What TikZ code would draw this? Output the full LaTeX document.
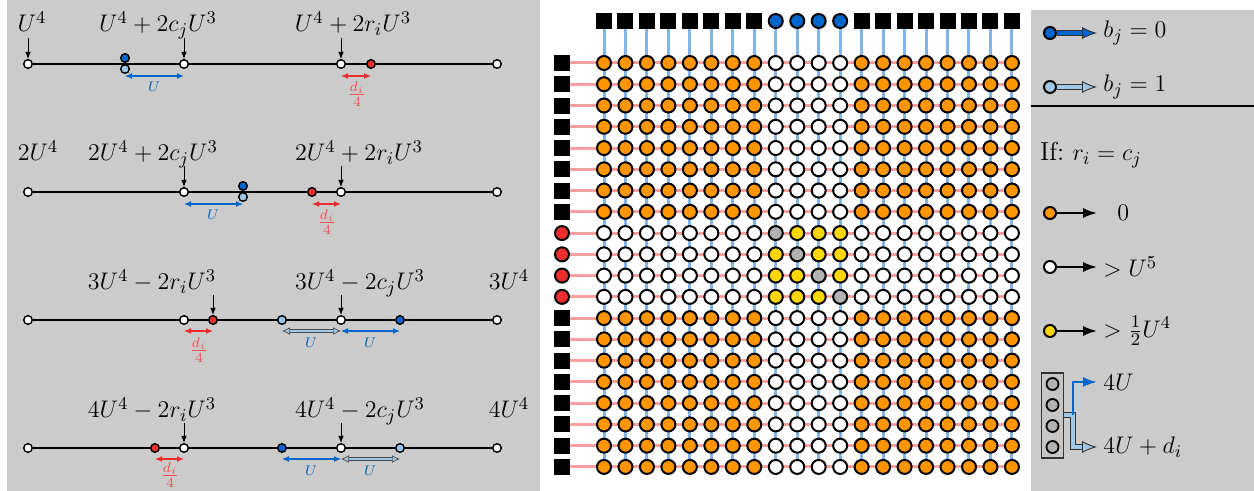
\documentclass[tikz,border=0pt]{standalone}
\usetikzlibrary{arrows.meta,backgrounds}

\definecolor{panel}{RGB}{203,203,203}
\definecolor{dblue}{RGB}{0,102,204}
\definecolor{lblue}{RGB}{160,200,230}
\definecolor{dred}{RGB}{235,45,45}
\definecolor{lred}{RGB}{240,80,80}
\definecolor{orng}{RGB}{255,150,0}
\definecolor{yel}{RGB}{255,215,0}
\definecolor{gry}{RGB}{178,178,178}
\definecolor{rline}{RGB}{250,160,160}
\definecolor{bline}{RGB}{130,180,230}

\begin{document}
\begin{tikzpicture}[x=0.5pt,y=-0.5pt,
  lab/.style={font=\fontsize{13}{15}\selectfont},
  ulab/.style={font=\fontsize{7.5}{8.5}\selectfont},
  flab/.style={font=\fontsize{10}{11}\selectfont,text=lred,inner sep=0pt},
  pt/.style={circle,draw,line width=0.7pt,fill=white,inner sep=0pt,minimum size=4.3pt},
  gn/.style={circle,draw,line width=1pt,inner sep=0pt,minimum size=7pt},
  sq/.style={fill=black,inner sep=0pt,minimum size=8pt},
  dn/.style={-{Latex[length=3.5pt,width=2.8pt]},line width=0.5pt},
  uarr/.style={{Latex[length=3.5pt,width=3pt]}-{Latex[length=3.5pt,width=3pt]},dblue,line width=0.6pt},
  rarr/.style={{Latex[length=3.5pt,width=3pt]}-{Latex[length=3.5pt,width=3pt]},dred,line width=0.6pt},
  lbarr/.style={{Latex[length=4pt,width=3.8pt,fill=lblue]}-{Latex[length=4pt,width=3.8pt,fill=lblue]},draw=black!70,double=lblue,double distance=1.2pt,line width=0.35pt},
  karr/.style={-{Latex[length=7pt,width=5pt]},line width=1pt},
  kdbl/.style={-{Latex[length=7.5pt,width=6pt,fill=#1]},draw=black!80,double=#1,double distance=2pt,line width=0.45pt},
  ktxt/.style={lab,anchor=west,inner sep=3pt}
]
\useasboundingbox (0,0) rectangle (1254,491);

% Panels
\fill[panel] (7,0) rectangle (540,491);
\fill[panel] (1031,10) rectangle (1254,491);

% First line
\node[pt] (p1s) at (28,64) {};
\node[pt] (p1e) at (497,64) {};
\draw[line width=0.6pt] (p1s) -- (p1e);
\node[pt] (p1c) at (184,64) {};
\node[pt] (p1r) at (341,64) {};
\node[pt,fill=dblue] (p1b) at (125,58) {};
\node[pt,fill=lblue] (p1l) at (125,69) {};
\node[pt,fill=dred] (p1d) at (371,64) {};
\node[lab,anchor=base] (t1s) at (32,32) {$U^4$};
\node[lab,anchor=base] (t1c) at (158,32) {$U^4+2c_jU^3$};
\node[lab,anchor=base] (t1r) at (353,32) {$U^4+2r_iU^3$};
\draw[dn] (p1s |- 0,38) -- (p1s);
\draw[dn] (p1c |- 0,38) -- (p1c);
\draw[dn] (p1r |- 0,38) -- (p1r);
\draw[uarr] (p1l |- 0,76) -- (p1c |- 0,76);
\node[ulab,text=dblue] (u1) at (154,87) {$U$};
\draw[rarr] (p1r |- 0,76) -- (p1d |- 0,76);
\node[flab] (f1) at (357,94) {$\frac{d_i}{4}$};

% Second line
\node[pt] (p2s) at (28,192) {};
\node[pt] (p2e) at (497,192) {};
\draw[line width=0.6pt] (p2s) -- (p2e);
\node[pt] (p2c) at (184,192) {};
\node[pt] (p2r) at (341,192) {};
\node[pt,fill=dblue] (p2b) at (243,186) {};
\node[pt,fill=lblue] (p2l) at (243,197) {};
\node[pt,fill=dred] (p2d) at (312,192) {};
\node[lab,anchor=base] (t2s) at (38,161) {$2U^4$};
\node[lab,anchor=base] (t2c) at (153,161) {$2U^4+2c_jU^3$};
\node[lab,anchor=base] (t2r) at (359,161) {$2U^4+2r_iU^3$};
\draw[dn] (p2c |- 0,166) -- (p2c);
\draw[dn] (p2r |- 0,166) -- (p2r);
\draw[uarr] (p2c |- 0,204) -- (p2l |- 0,204);
\node[ulab,text=dblue] (u2) at (213,215) {$U$};
\draw[rarr] (p2d |- 0,204) -- (p2r |- 0,204);
\node[flab] (f2) at (327,222) {$\frac{d_i}{4}$};

% Third line
\node[pt] (p3s) at (28,320) {};
\node[pt] (p3e) at (497,320) {};
\draw[line width=0.6pt] (p3s) -- (p3e);
\node[pt] (p3c) at (184,320) {};
\node[pt,fill=dred] (p3d) at (213,320) {};
\node[pt,fill=lblue] (p3l) at (282,320) {};
\node[pt] (p3r) at (341,320) {};
\node[pt,fill=dblue] (p3b) at (400,320) {};
\node[lab,anchor=base] (t3r) at (152,290) {$3U^4-2r_iU^3$};
\node[lab,anchor=base] (t3c) at (360,290) {$3U^4-2c_jU^3$};
\node[lab,anchor=base] (t3e) at (509,290) {$3U^4$};
\draw[dn] (p3d |- 0,295) -- (p3d);
\draw[dn] (p3r |- 0,295) -- (p3r);
\draw[rarr] (p3c |- 0,331) -- (p3d |- 0,331);
\node[flab] (f3) at (199,350) {$\frac{d_i}{4}$};
\draw[lbarr] (p3l |- 0,331) -- (p3r |- 0,331);
\node[ulab,text=dblue] (u3a) at (311,343) {$U$};
\draw[uarr] (p3r |- 0,331) -- (p3b |- 0,331);
\node[ulab,text=dblue] (u3b) at (370,343) {$U$};

% Fourth line
\node[pt] (p4s) at (28,448) {};
\node[pt] (p4e) at (497,448) {};
\draw[line width=0.6pt] (p4s) -- (p4e);
\node[pt,fill=dred] (p4d) at (155,448) {};
\node[pt] (p4c) at (184,448) {};
\node[pt,fill=dblue] (p4b) at (282,448) {};
\node[pt] (p4r) at (341,448) {};
\node[pt,fill=lblue] (p4l) at (400,448) {};
\node[lab,anchor=base] (t4r) at (152,418) {$4U^4-2r_iU^3$};
\node[lab,anchor=base] (t4c) at (360,418) {$4U^4-2c_jU^3$};
\node[lab,anchor=base] (t4e) at (509,418) {$4U^4$};
\draw[dn] (p4c |- 0,423) -- (p4c);
\draw[dn] (p4r |- 0,423) -- (p4r);
\draw[rarr] (p4d |- 0,459) -- (p4c |- 0,459);
\node[flab] (f4) at (170,475) {$\frac{d_i}{4}$};
\draw[uarr] (p4b |- 0,459) -- (p4r |- 0,459);
\node[ulab,text=dblue] (u4a) at (311,471) {$U$};
\draw[lbarr] (p4r |- 0,459) -- (p4l |- 0,459);
\node[ulab,text=dblue] (u4b) at (370,471) {$U$};

% Grid: top and left inputs
\foreach \col in {1,...,20}{
  \pgfmathtruncatemacro{\ci}{and(\col>8,\col<13)}
  \ifnum\ci=1
    \node[gn,fill=dblue] (t\col) at ({604+21.47*(\col-1)},21) {};
  \else
    \node[sq] (t\col) at ({604+21.47*(\col-1)},21) {};
  \fi
}
\foreach \row in {1,...,20}{
  \pgfmathtruncatemacro{\ri}{and(\row>8,\row<13)}
  \ifnum\ri=1
    \node[gn,fill=dred] (l\row) at (562,{63+21.26*(\row-1)}) {};
  \else
    \node[sq] (l\row) at (562,{63+21.26*(\row-1)}) {};
  \fi
}

% Grid cells
\foreach \row in {1,...,20}{
  \foreach \col in {1,...,20}{
    \pgfmathtruncatemacro{\ri}{and(\row>8,\row<13)}
    \pgfmathtruncatemacro{\ci}{and(\col>8,\col<13)}
    \pgfmathtruncatemacro{\kind}{\ri+\ci+and(\ri+\ci==2,\row==\col)}
    \ifcase\kind \def\fc{orng}\or\def\fc{white}\or\def\fc{yel}\else\def\fc{gry}\fi
    \node[gn,fill=\fc] (g-\row-\col) at ({604+21.47*(\col-1)},{63+21.26*(\row-1)}) {};
  }
}

% Wires
\begin{pgfonlayer}{background}
\foreach \col in {1,...,20}
  \draw[bline,line width=1.5pt] (t\col) -- (g-20-\col);
\foreach \row in {1,...,20}
  \draw[rline,line width=1.5pt] (l\row) -- (g-\row-20);
\end{pgfonlayer}

% Legend
\node[gn,fill=dblue,minimum size=6pt] (k1) at (1050,33) {};
\node[ktxt] (k1t) at (1097,33) {$b_j=0$};
\draw[kdbl=dblue] (k1) -- (k1t);
\node[gn,fill=lblue,minimum size=6pt] (k2) at (1050,87) {};
\node[ktxt] (k2t) at (1097,87) {$b_j=1$};
\draw[kdbl=lblue] (k2) -- (k2t);
\draw[line width=1pt] (1031,106) -- (1254,106);
\node[lab,anchor=west] (cond) at (1033,155) {If:~$r_i=c_j$};
\node[gn,fill=orng,minimum size=6pt] (k3) at (1050,213) {};
\node[ktxt] (k3t) at (1097,213) {\hspace{7pt}$0$};
\draw[karr] (k3) -- (k3t);
\node[gn,fill=white,minimum size=6pt] (k4) at (1050,267) {};
\node[ktxt] (k4t) at (1097,267) {$>U^5$};
\draw[karr] (k4) -- (k4t);
\node[gn,fill=yel,minimum size=6pt] (k5) at (1050,331) {};
\node[ktxt] (k5t) at (1097,331) {$>\frac{1}{2}U^4$};
\draw[karr] (k5) -- (k5t);

% Legend: column of cells
\node[draw=black!80,fill=gray!45,line width=0.6pt,minimum width=11pt,minimum height=42.5pt,inner sep=0pt] (bx) at (1052.5,415.5) {};
\foreach \i/\yy in {1/384,2/405,3/426,4/447}
  \node[circle,draw,fill=gry,inner sep=0pt,minimum size=6pt,line width=0.9pt] (bc\i) at (1052.5,\yy) {};
\coordinate (jn) at (1073,415);
\node[ktxt] (k6t) at (1097,382) {$4U$};
\node[ktxt] (k7t) at (1097,447) {$4U+d_i$};
\draw[kdbl=lblue] (bx.east |- jn) -- (jn) |- (k7t);
\draw[dblue,line width=1.2pt,-{Latex[length=7pt,width=5pt]}] (jn) |- (k6t);

\end{tikzpicture}
\end{document}
